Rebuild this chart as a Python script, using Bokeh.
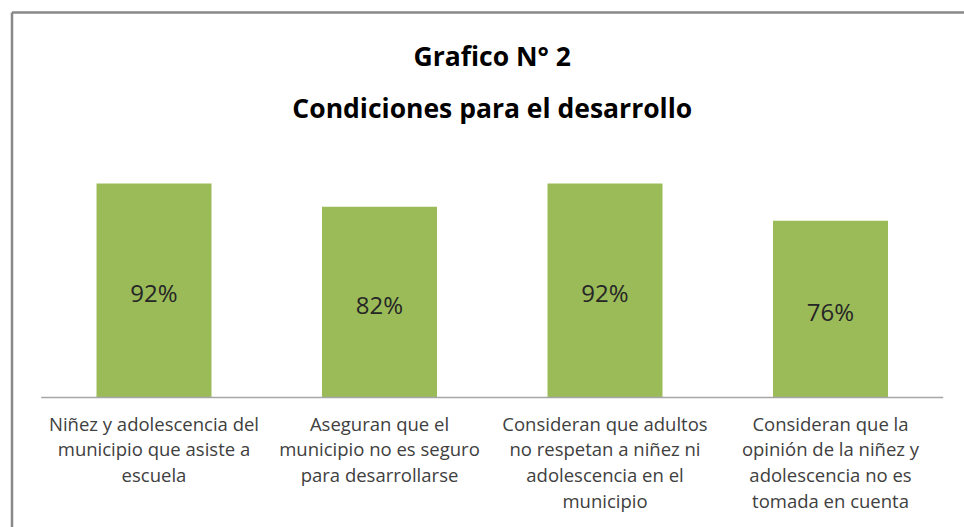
from bokeh.plotting import figure
from bokeh.models import Range1d, ColumnDataSource
from bokeh.core.properties import value
from bokeh.embed import file_html
from bokeh.resources import INLINE

# ---- data ----
categories = [
    "Niñez y adolescencia del\nmunicipio que asiste a\nescuela",
    "Aseguran que el\nmunicipio no es seguro\npara desarrollarse",
    "Consideran que adultos\nno respetan a niñez ni\nadolescencia en el\nmunicipio",
    "Consideran que la\nopinión de la niñez y\nadolescencia no es\ntomada en cuenta",
]
values = [92, 82, 92, 76]
value_labels = [f"{v}%" for v in values]
title_lines = ["Grafico N° 2", "Condiciones para el desarrollo"]

# ---- layout (pixels) ----
W, H = 964, 527
X0_PX = 40.75        # left of category band 0
BAND_PX = 225.5      # px per category
Y0_PX = 397.0        # baseline (px from top)
PX_PER_PCT = 2.326

FONT = "Open Sans"
TEXT_COLOR = "#404040"
GREEN = "#9BBB59"

x_start = -X0_PX / BAND_PX
x_end = (W - X0_PX) / BAND_PX
y_end = Y0_PX / PX_PER_PCT
y_start = -(H - Y0_PX) / PX_PER_PCT

def py(px_from_top):
    return (Y0_PX - px_from_top) / PX_PER_PCT

def px(px_from_left):
    return (px_from_left - X0_PX) / BAND_PX

p = figure(width=W, height=H, output_backend="svg", toolbar_location=None,
           x_range=Range1d(x_start, x_end), y_range=Range1d(y_start, y_end),
           min_border=0, tools="")
p.axis.visible = False
p.grid.visible = False
p.outline_line_color = None
p.background_fill_color = "white"
p.border_fill_color = "white"

xs = [i + 0.5 for i in range(len(values))]
src = ColumnDataSource(dict(x=xs, top=values, half=[v / 2 for v in values],
                            lab=value_labels, cat=categories))

p.vbar(x="x", top="top", bottom=0, width=0.51, source=src,
       fill_color=GREEN, line_color=None)

# baseline axis line
p.segment(x0=[0], y0=[0], x1=[len(values)], y1=[0], line_color="#A6A6A6", line_width=1.5)

# value labels in the bars
p.text(x="x", y="half", text="lab", source=src, text_align="center",
       text_baseline="middle", text_font=value(FONT), text_font_size="24px",
       text_color="#262626", y_offset=2)

# category labels
CAT_FS = 18.5
p.text(x="x", y=py(410), text="cat", source=src, text_align="center",
       text_baseline="top", text_font=value(FONT), text_font_size=f"{CAT_FS}px",
       text_color=TEXT_COLOR, text_line_height=1.03)

# titles
p.text(x=[len(values) / 2] * 2, y=[py(55), py(107)], text=title_lines,
       text_align="center", text_baseline="middle", text_font=value(FONT),
       text_font_size="26.5px", text_font_style="bold", text_color="black")

# chart border (top and left edges of the chart area)
border_col = "#898989"
bx, by = px(11.5), py(12)
p.segment(x0=[bx, bx], y0=[by, by], x1=[bx, x_end + 1], y1=[y_start - 10, by],
          line_color=border_col, line_width=2.5)

open("out.html", "w").write(file_html(p, INLINE))
